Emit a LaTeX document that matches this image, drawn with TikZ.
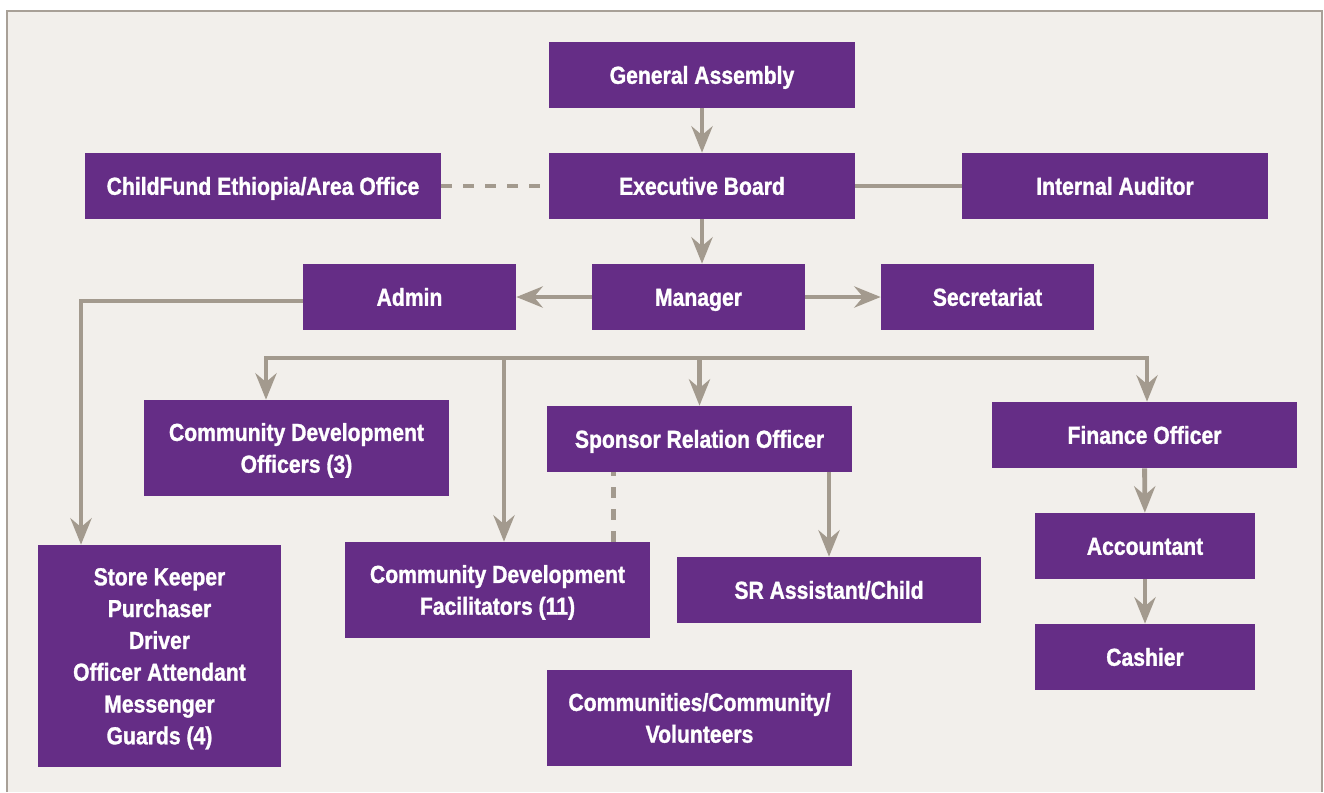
\documentclass[tikz,border=0pt]{standalone}
\usepackage{fontspec}
\setmainfont[FakeStretch=0.86, BoldFont={Liberation Sans Bold}, BoldFeatures={FakeStretch=0.86, FakeBold=1.2}]{Liberation Sans}
\usetikzlibrary{arrows.meta}
\definecolor{boxpurple}{HTML}{652D86}
\definecolor{linkgray}{HTML}{A39A8E}
\definecolor{paper}{HTML}{F2EFEB}
\definecolor{framegray}{HTML}{A8A097}
\tikzset{
	orgbox/.style={fill=boxpurple, text=white, inner sep=0pt, align=center,
		font=\fontsize{14}{18.1}\selectfont\bfseries,
		minimum width=6.12cm, minimum height=1.32cm,
		text height=10pt, text depth=0pt},
	lines/.style={text height=10pt+(#1-1)*18.1pt},
	link/.style={draw=linkgray, line width=2.8pt},
	arr/.style={link, -{Stealth[length=15pt, width=12pt, inset=5pt]}},
	dashlink/.style={link, dash pattern=on 6.2pt off 6.3pt}
}
\begin{document}
\begin{tikzpicture}[x=0.02cm, y=-0.02cm]
	\useasboundingbox (0,0) rectangle (1324,792);
	\fill[paper] (7,11) rectangle (1322,792);
	\draw[framegray, line width=1.1pt] (7,792) -- (7,11) -- (1322,11) -- (1322,792);

	% top levels
	\node[orgbox] (ga) at (702,75) {General Assembly};
	\node[orgbox] (eb) at (702,186) {Executive Board};
	\node[orgbox, minimum width=7.12cm] (cf) at (263,186) {ChildFund Ethiopia/Area Office};
	\node[orgbox] (ia) at (1115,186) {Internal Auditor};
	\node[orgbox, minimum width=4.26cm] (admin) at (409.5,297) {Admin};
	\node[orgbox, minimum width=4.26cm] (mgr) at (698.5,297) {Manager};
	\node[orgbox, minimum width=4.26cm] (sec) at (987.5,297) {Secretariat};

	% officers
	\node[orgbox, lines=2, minimum width=6.1cm, minimum height=1.92cm] (cdo) at (296.5,448) {Community Development\\Officers (3)};
	\node[orgbox, minimum width=6.1cm] (sro) at (699.5,439) {Sponsor Relation Officer};
	\node[orgbox, minimum width=6.1cm] (fo) at (1144.5,435) {Finance Officer};

	% staff
	\node[orgbox, lines=6, minimum width=4.86cm, minimum height=4.44cm] (store) at (159.5,656) {Store Keeper\\Purchaser\\Driver\\Officer Attendant\\Messenger\\Guards (4)};
	\node[orgbox, lines=2, minimum width=6.1cm, minimum height=1.92cm] (cdf) at (497.5,590) {Community Development\\Facilitators (11)};
	\node[orgbox, minimum width=6.08cm] (sra) at (829,590) {SR Assistant/Child};
	\node[orgbox, minimum width=4.4cm] (acc) at (1145,546) {Accountant};
	\node[orgbox, minimum width=4.4cm] (cash) at (1145,657) {Cashier};
	\node[orgbox, lines=2, minimum width=6.1cm, minimum height=1.92cm] (comm) at (699.5,718) {Communities/Community/\\Volunteers};

	% links
	\draw[arr] (ga) -- (eb);
	\draw[arr] (eb.south) -- (eb.south |- mgr.north);
	\draw[dashlink] (cf) -- (eb);
	\draw[link] (eb) -- (ia);
	\draw[arr] (mgr) -- (admin);
	\draw[arr] (mgr) -- (sec);
	\draw[arr] ([yshift=-0.08cm]admin.west) -| ([xshift=-1.57cm]store.north);

	\coordinate (busL) at (266,358);
	\coordinate (busF) at (504,358);
	\coordinate (busR) at (1147,358);
	\draw[arr] (busL -| sro.north) -| (busL |- cdo.north);
	\draw[arr] (busL -| sro.north) -| (busR |- fo.north);
	\draw[arr] (busL -| sro.north) -- (sro.north);
	\draw[arr] (busF) -- (busF |- cdf.north);

	\draw[arr] (sra.north |- sro.south) -- (sra.north);
	\draw[dashlink] ([xshift=-0.74cm]cdf.north east) -- ([xshift=-0.74cm]cdf.north east |- sro.south);
	\draw[arr] (fo) -- (acc);
	\draw[arr] (acc) -- (cash);
\end{tikzpicture}
\end{document}
